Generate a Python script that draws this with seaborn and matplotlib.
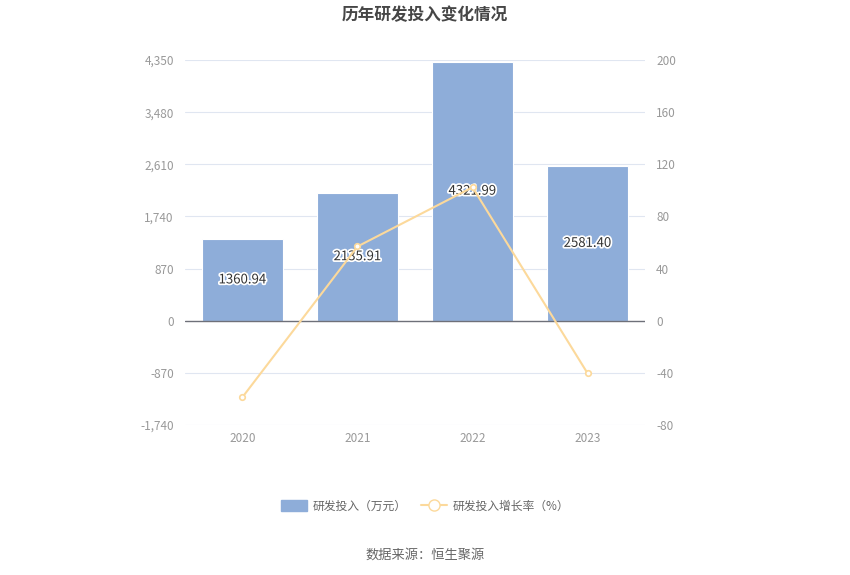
import matplotlib
matplotlib.use("Agg")
import matplotlib.pyplot as plt
import matplotlib.patheffects as pe
from matplotlib.lines import Line2D
from matplotlib.patches import Patch
import seaborn as sns
import pandas as pd
import numpy as np

years = ["2020", "2021", "2022", "2023"]
rd_invest = [1360.94, 2135.91, 4321.99, 2581.40]
growth = [-58.6, 56.94, 102.35, -40.27]
left_ticks = [-1740, -870, 0, 870, 1740, 2610, 3480, 4350]
right_ticks = [-80, -40, 0, 40, 80, 120, 160, 200]

sns.set_theme(style="white")
plt.rcParams['font.family'] = ['Noto Sans CJK SC', 'DejaVu Sans']

bar_color = "#8eadd9"
line_color = "#fcd99b"
grid_color = "#e0e6f1"
tick_color = "#999999"

fig = plt.figure(figsize=(8.5, 5.75), dpi=100)
ax = fig.add_axes([185/850, 1-425/575, 460/850, 365/575])

df = pd.DataFrame({"year": years, "value": rd_invest, "growth": growth})
sns.barplot(data=df, x="year", y="value", ax=ax, color=bar_color, width=0.7,
            saturation=1, edgecolor="white", linewidth=0.8, zorder=2)
ax.set_ylim(left_ticks[0], left_ticks[-1])
ax.set_yticks(left_ticks)
ax.set_yticklabels([f"{v:,}" for v in left_ticks])
ax.set_xlim(-0.5, 3.5)
ax.set_xlabel("")
ax.set_ylabel("")
for v in left_ticks:
    if v != 0:
        ax.axhline(v, color=grid_color, lw=0.8, zorder=0)
ax.axhline(0, color="#6e7079", lw=1, zorder=3)
for s in ax.spines.values():
    s.set_visible(False)
ax.tick_params(axis="y", length=0, labelsize=8.5, colors=tick_color, pad=8)
ax.tick_params(axis="x", length=0, labelsize=8.5, colors=tick_color, pad=5)

for i, v in enumerate(rd_invest):
    ax.text(i, v/2, f"{v:.2f}", ha="center", va="center", fontsize=9.5,
            color="#333333", zorder=6,
            path_effects=[pe.withStroke(linewidth=2.5, foreground="white")])

ax2 = ax.twinx()
ax2.set_position(ax.get_position())
sns.lineplot(data=df, x="year", y="growth", ax=ax2, color=line_color, lw=1.5,
             marker="o", markersize=4, markerfacecolor="white",
             markeredgecolor=line_color, markeredgewidth=1.2, zorder=5)
ax2.set_ylim(right_ticks[0], right_ticks[-1])
ax2.set_yticks(right_ticks)
ax2.set_yticklabels([str(v) for v in right_ticks])
ax2.set_ylabel("")
ax2.set_xlabel("")
for s in ax2.spines.values():
    s.set_visible(False)
ax2.tick_params(axis="y", length=0, labelsize=8.5, colors=tick_color, pad=8)
ax2.grid(False)

fig.text(0.5, 1-15/575, "历年研发投入变化情况", ha="center", va="center",
         fontsize=12, fontweight="bold", color="#464646")

handles = [Patch(facecolor=bar_color, edgecolor=bar_color),
           Line2D([0], [0], color=line_color, lw=1.5, marker="o", markersize=8,
                  markerfacecolor="white", markeredgecolor=line_color)]
fig.legend(handles, ["研发投入（万元）", "研发投入增长率（%）"], loc="center",
           bbox_to_anchor=(0.5, 1-506/575), ncol=2, frameon=False, fontsize=8.5,
           labelcolor="#666666", handlelength=2.2, handleheight=1.0, columnspacing=1.2,
           handletextpad=0.5)

fig.text(0.5, 1-555/575, "数据来源：恒生聚源", ha="center", va="center",
         fontsize=9.5, color="#666666")

fig.savefig("out.png", dpi=100)
